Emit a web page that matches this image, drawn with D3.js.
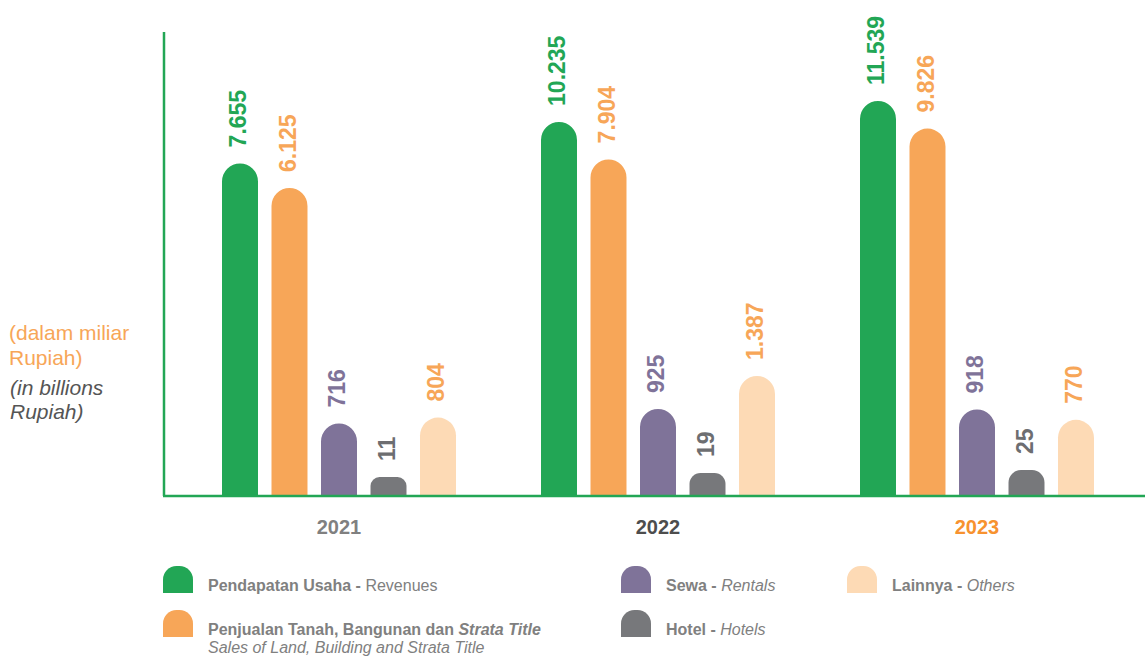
<!DOCTYPE html>
<html>
<head>
<meta charset="utf-8">
<script src="https://cdn.jsdelivr.net/npm/d3@7"></script>
<style>
  body { margin: 0; background: #fff; }
  svg { display: block; }
</style>
</head>
<body>
<svg id="chart" width="1145" height="657"></svg>
<script>
// data
var years = ["2021", "2022", "2023"];
var seriesKeys = ["revenue", "land", "rental", "hotel", "other"];
var revenue = [7655, 10235, 11539];
var land = [6125, 7904, 9826];
var rental = [716, 925, 918];
var hotel = [11, 19, 25];
var other = [804, 1387, 770];
var valueLabels = {
  revenue: ["7.655", "10.235", "11.539"],
  land: ["6.125", "7.904", "9.826"],
  rental: ["716", "925", "918"],
  hotel: ["11", "19", "25"],
  other: ["804", "1.387", "770"]
};
var yearColors = ["#808080", "#4d4d4d", "#f7922f"];

var fills = { revenue: "#22a655", land: "#f7a658", rental: "#7f7399", hotel: "#77787b", other: "#fddab5" };
var labelColors = { revenue: "#22a655", land: "#f7a658", rental: "#7f7399", hotel: "#6d6e71", other: "#f7a658" };

var values = { revenue: revenue, land: land, rental: rental, hotel: hotel, other: other };

var svg = d3.select("#chart");
var baseY = 495;

// groups and bars
var x0 = d3.scaleBand().domain(years).range([222, 222 + 3 * 319]);
var x1 = d3.scaleBand().domain(seriesKeys).range([0, 234]).paddingInner(0.273).paddingOuter(0);

// the original chart is not drawn to a linear scale; use a piecewise scale
var h = d3.scaleLinear()
  .domain([0, 11, 25, 827, 1387, 6125, 11539])
  .range([16, 18, 25, 79, 119, 307, 394]);

function barPath(x, w, top, bottom) {
  var r = Math.min(w / 2, (bottom - top) / 2);
  return "M" + x + "," + bottom +
    "V" + (top + r) +
    "A" + r + "," + r + " 0 0 1 " + (x + r) + "," + top +
    "H" + (x + w - r) +
    "A" + r + "," + r + " 0 0 1 " + (x + w) + "," + (top + r) +
    "V" + bottom + "Z";
}

var cells = [];
years.forEach(function (yr, i) {
  seriesKeys.forEach(function (k) {
    cells.push({ year: yr, i: i, key: k, value: values[k][i], label: valueLabels[k][i] });
  });
});

svg.append("g").selectAll("path")
  .data(cells)
  .enter().append("path")
  .attr("d", function (d) {
    var x = x0(d.year) + x1(d.key);
    return barPath(x, x1.bandwidth(), baseY - h(d.value), baseY);
  })
  .attr("fill", function (d) { return fills[d.key]; });

svg.append("g").selectAll("text")
  .data(cells)
  .enter().append("text")
  .attr("transform", function (d) {
    var cx = x0(d.year) + x1(d.key) + x1.bandwidth() / 2 - 2;
    return "translate(" + cx + "," + (baseY - h(d.value) - 16) + ") rotate(-90)";
  })
  .attr("dy", "0.36em")
  .attr("font-family", "'Liberation Sans', Arial, sans-serif")
  .attr("font-weight", "bold")
  .attr("font-size", 23)
  .attr("fill", function (d) { return labelColors[d.key]; })
  .text(function (d) { return d.label; });

// axes
svg.append("line")
  .attr("x1", 164).attr("x2", 164).attr("y1", 32).attr("y2", baseY + 1)
  .attr("stroke", "#22a655").attr("stroke-width", 2.5);
svg.append("line")
  .attr("x1", 163).attr("x2", 1145).attr("y1", baseY + 1).attr("y2", baseY + 1)
  .attr("stroke", "#22a655").attr("stroke-width", 2.5);

svg.append("g").selectAll("text")
  .data(years)
  .enter().append("text")
  .attr("x", function (d) { return x0(d) + 117; })
  .attr("y", 534)
  .attr("text-anchor", "middle")
  .attr("font-family", "'Liberation Sans', Arial, sans-serif")
  .attr("font-weight", "bold")
  .attr("font-size", 20)
  .attr("fill", function (d, i) { return yearColors[i]; })
  .text(function (d) { return d; });

// unit label
var unit = svg.append("g");
unit.append("text").attr("x", 9).attr("y", 340).text("(dalam miliar")
  .attr("font-family", "'Liberation Sans', Arial, sans-serif")
  .attr("font-size", 21).attr("fill", "#f7a658");
unit.append("text").attr("x", 9).attr("y", 365).text("Rupiah)")
  .attr("font-family", "'Liberation Sans', Arial, sans-serif")
  .attr("font-size", 21).attr("fill", "#f7a658");
unit.append("text").attr("x", 10).attr("y", 395).text("(in billions")
  .attr("font-family", "'Liberation Sans', Arial, sans-serif").attr("font-style", "italic")
  .attr("font-size", 21).attr("fill", "#555555");
unit.append("text").attr("x", 10).attr("y", 419).text("Rupiah)")
  .attr("font-family", "'Liberation Sans', Arial, sans-serif").attr("font-style", "italic")
  .attr("font-size", 21).attr("fill", "#555555");

// legend
var legendItems = [
  { key: "revenue", x: 163, y: 566, parts: [["Pendapatan Usaha", "bold", "normal"], [" - ", "bold", "normal"], ["Revenues", "normal", "normal"]] },
  { key: "land", x: 163, y: 610, parts: [["Penjualan Tanah, Bangunan dan ", "bold", "normal"], ["Strata Title", "bold", "italic"]],
    line2: "Sales of Land, Building and Strata Title" },
  { key: "rental", x: 621, y: 566, parts: [["Sewa", "bold", "normal"], [" - ", "bold", "normal"], ["Rentals", "normal", "italic"]] },
  { key: "hotel", x: 621, y: 610, parts: [["Hotel", "bold", "normal"], [" - ", "bold", "normal"], ["Hotels", "normal", "italic"]] },
  { key: "other", x: 847, y: 566, parts: [["Lainnya", "bold", "normal"], [" - ", "bold", "normal"], ["Others", "normal", "italic"]] }
];

var lg = svg.append("g").selectAll("g")
  .data(legendItems)
  .enter().append("g");

lg.append("path")
  .attr("d", function (d) { return barPath(d.x, 30, d.y, d.y + 27); })
  .attr("fill", function (d) { return fills[d.key]; });

var lt = lg.append("text")
  .attr("x", function (d) { return d.x + 45; })
  .attr("y", function (d) { return d.y + 25; })
  .attr("font-family", "'Liberation Sans', Arial, sans-serif")
  .attr("font-size", 16)
  .attr("fill", "#808080");

lt.each(function (d) {
  var t = d3.select(this);
  d.parts.forEach(function (p) {
    t.append("tspan").attr("font-weight", p[1]).attr("font-style", p[2]).text(p[0]);
  });
});

lg.filter(function (d) { return d.line2; })
  .append("text")
  .attr("x", function (d) { return d.x + 45; })
  .attr("y", function (d) { return d.y + 43; })
  .attr("font-family", "'Liberation Sans', Arial, sans-serif")
  .attr("font-size", 16)
  .attr("font-style", "italic")
  .attr("fill", "#808080")
  .text(function (d) { return d.line2; });
</script>
</body>
</html>
